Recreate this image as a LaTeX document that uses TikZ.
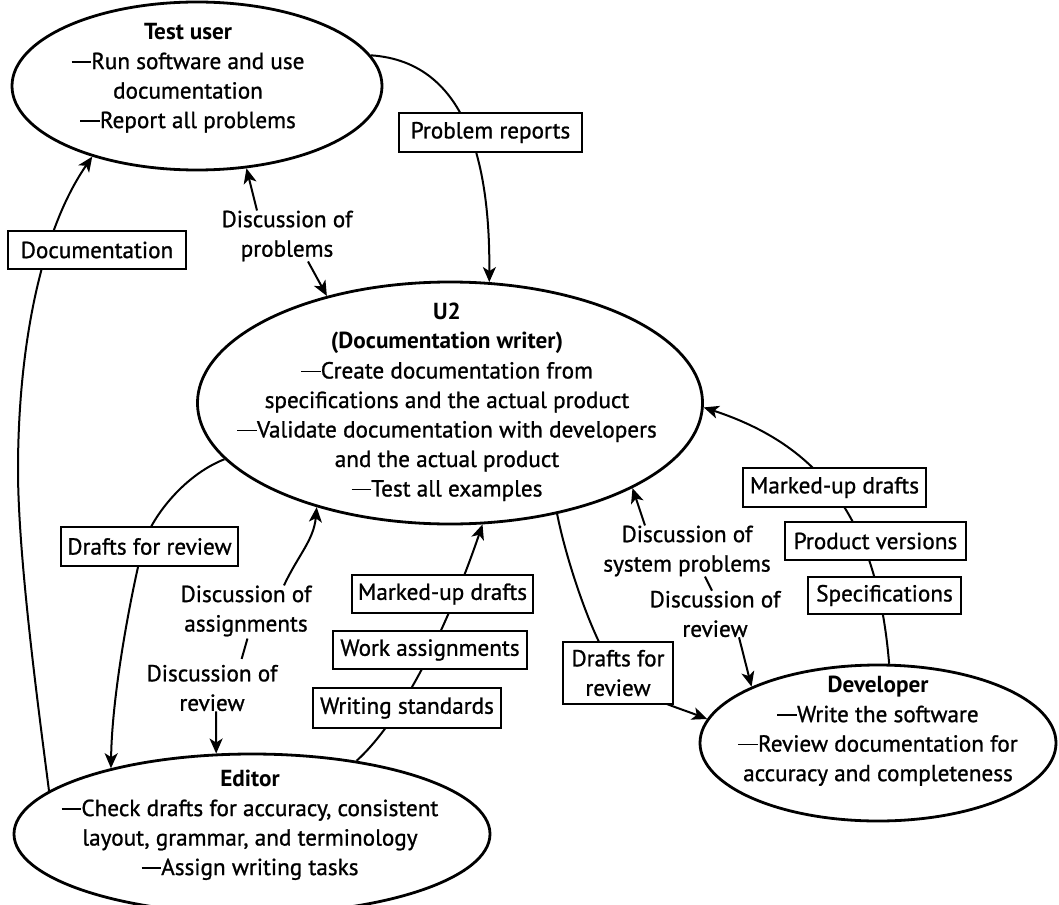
\documentclass[tikz,border=0pt]{standalone}
\usepackage{fontspec}
\setmainfont{PT Sans}[UprightFeatures={FakeBold=1.0}]
\usetikzlibrary{shapes.geometric,arrows.meta,backgrounds,calc}
\newcommand\dsh{\rule[0.27em]{0.85em}{0.06em}}
\tikzset{
  txt/.style={font=\fontsize{23.2}{29.5}\selectfont},
  oval/.style={ellipse, draw, line width=2.8pt, inner sep=0pt},
  ovaltext/.style={txt, align=center, inner sep=0pt},
  box/.style={txt, draw, line width=1.9pt, fill=white, inner sep=0pt, minimum height=38pt, align=center},
  lbl/.style={txt, align=center, inner sep=0pt},
  conn/.style={line width=2pt},
  arr/.style={conn, -{Stealth[length=15pt,width=13pt,inset=4pt]}},
}
\begin{document}
\begin{tikzpicture}[x=1pt,y=1pt]
\useasboundingbox (0,0) rectangle (1059,-904);
% ellipses
\node[oval, minimum width=370pt, minimum height=168pt] (tu) at (197,-86) {};
\node[ovaltext] (tut) at (188,-78) {\textbf{Test user}\\\dsh Run software and use\\documentation\\\dsh Report all problems};
\node[oval, minimum width=505pt, minimum height=242pt] (u2) at (450,-403) {};
\node[ovaltext] (u2t) at (447,-402) {\textbf{U2}\\\textbf{(Documentation writer)}\\\dsh Create documentation from\\specifications and the actual product\\\dsh Validate documentation with developers\\and the actual product\\\dsh Test all examples};
\node[oval, minimum width=476pt, minimum height=160pt] (ed) at (252,-834) {};
\node[ovaltext] (edt) at (250,-825) {\textbf{Editor}\\\dsh Check drafts for accuracy, consistent\\layout, grammar, and terminology\\\dsh Assign writing tasks};
\node[oval, minimum width=356pt, minimum height=156pt] (dev) at (878,-743) {};
\node[ovaltext] (devt) at (878,-731) {\textbf{Developer}\\\dsh Write the software\\\dsh Review documentation for\\accuracy and completeness};
% boxes
\node[box, minimum width=183pt, minimum height=39pt] (pr) at (490.5,-132.5) {Problem reports};
\node[box, minimum width=178pt] (doc) at (97,-250) {Documentation};
\node[box, minimum width=177pt, minimum height=39pt] (dfr1) at (149.5,-546.5) {Drafts for review};
\node[box, minimum width=181pt] (mup1) at (442.5,-594) {Marked-up drafts};
\node[box, minimum width=194pt] (wa) at (430,-650) {Work assignments};
\node[box, minimum width=188pt, minimum height=40pt] (ws) at (407,-708) {Writing standards};
\node[box, minimum width=183pt, minimum height=39pt] (mup2) at (834.5,-487.5) {Marked-up drafts};
\node[box, minimum width=181pt] (pv) at (875.5,-541) {Product versions};
\node[box, minimum width=153pt, minimum height=37pt] (spec) at (884.5,-595.5) {Specifications};
\node[box, minimum width=110pt, minimum height=62pt] (dfr2) at (618,-673) {Drafts for\\review};
% labels
\node[lbl] (dprob) at (287,-236) {Discussion of\\problems};
\node[lbl] (dasg) at (246,-611) {Discussion of\\assignments};
\node[lbl] (drev1) at (212,-688) {Discussion of\\review};
\node[lbl] (dsys) at (687,-551) {Discussion of\\system problems};
\node[lbl] (drev2) at (715,-614) {Discussion of\\review};
\begin{pgfonlayer}{background}
\fill[white] (0,0) rectangle (1059,-904);
\draw[arr] (tu.10) .. controls (470,-62) and (490,-170) .. (u2.72);
\draw[arr] (ed.168) .. controls (40,-720) and (18,-560) .. (18,-470) .. controls (18,-350) and (40,-232) .. (tu.214);
\draw[arr] ([xshift=-30pt]dprob.north) -- (tu.301);
\draw[arr] ([xshift=21pt]dprob.south) -- (u2.139);
\draw[arr] (u2.194) .. controls (182,-476) and (150,-520) .. (143,-546) .. controls (133,-585) and (112,-690) .. (ed.155);
\draw[arr] ([xshift=38pt]dasg.north) to[out=65,in=-95] (u2.218);
\draw[conn, shorten <=2pt, shorten >=6pt] ([xshift=2pt]dasg.south) -- ([xshift=28pt]drev1.north);
\draw[arr] ([xshift=4pt]drev1.south) -- (ed.114);
\draw[arr] (ed.35) .. controls (408,-714) and (453.6,-609.4) .. (u2.285);
\draw[arr] (dev.82) .. controls (877,-516) and (818,-445) .. (u2.-1);
\draw[arr] (u2.314) .. controls (566,-560) and (595,-648) .. (618,-673) .. controls (641,-698) and (671,-705) .. (dev.172);
\draw[arr] ([xshift=-42pt]dsys.north) -- (u2.335);
\draw[conn] ([xshift=18pt]dsys.south) -- ([xshift=-3pt]drev2.north);
\draw[arr] ([xshift=24pt]drev2.south) -- (dev.156);
\end{pgfonlayer}
\end{tikzpicture}
\end{document}
